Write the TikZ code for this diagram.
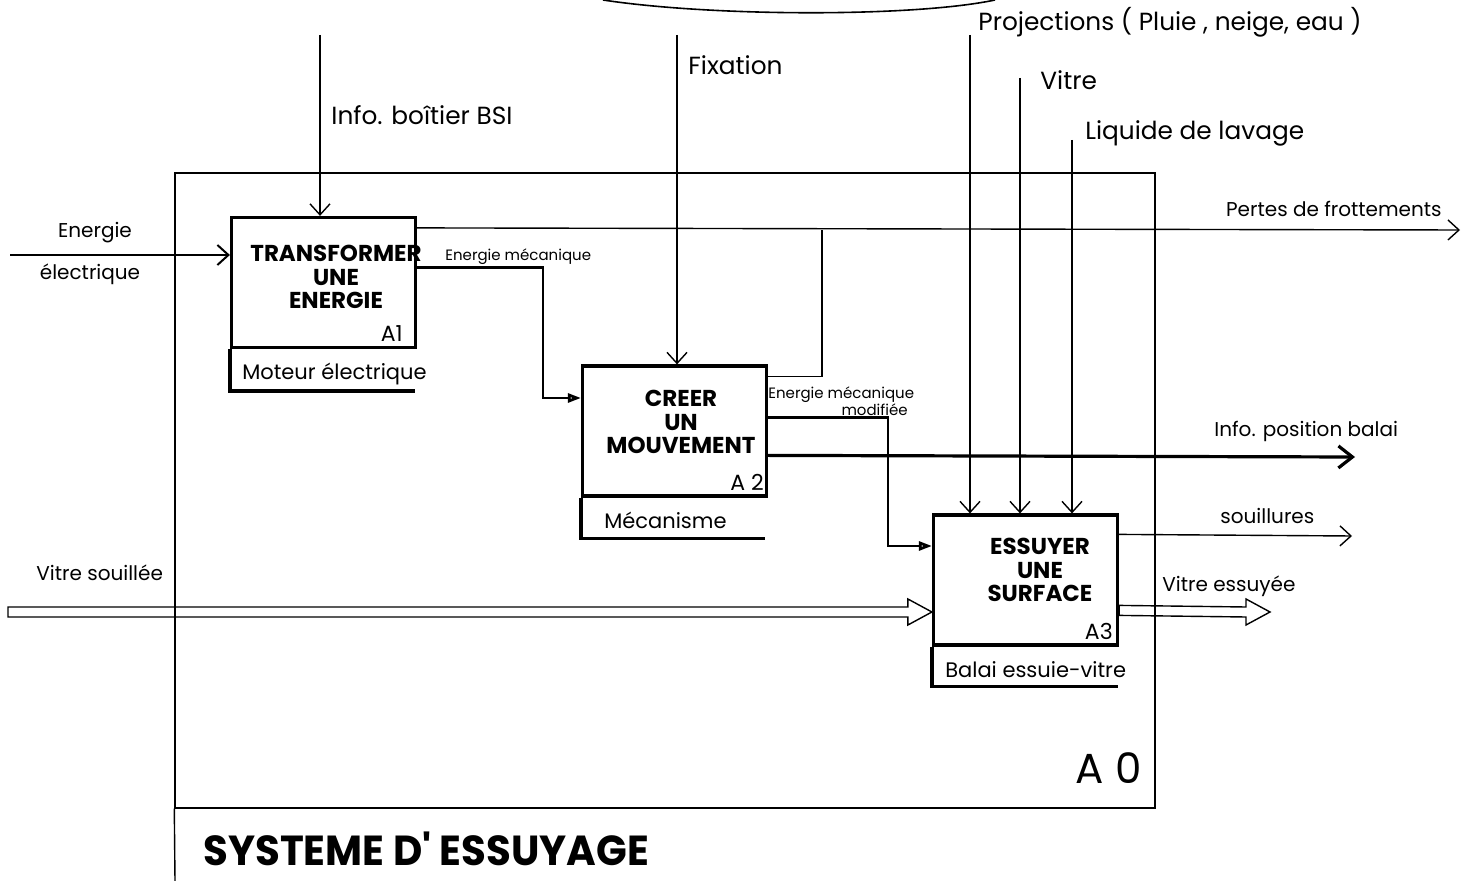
\documentclass[tikz,border=0pt]{standalone}
\usepackage{fontspec}
\usepackage{graphicx}
\setmainfont{Poppins}
\usetikzlibrary{positioning,arrows.meta,calc}
\tikzset{
	funcbox/.style={draw, line width=1.6pt, minimum width=92pt, minimum height=65pt,
		inner sep=0pt},
	boxtitle/.style={align=center, inner sep=0pt,
		font=\fontsize{11.5}{11.8}\selectfont\bfseries},
	boxref/.style={anchor=south east, inner sep=0pt, font=\fontsize{11}{12}\selectfont},
	mechtext/.style={anchor=west, inner sep=0pt, font=\fontsize{10.5}{12}\selectfont},
	biglabel/.style={anchor=west, inner sep=0pt, font=\fontsize{12.4}{14}\selectfont},
	flowlabel/.style={inner sep=0pt, font=\fontsize{10}{12}\selectfont},
	smalllabel/.style={inner sep=0pt, font=\fontsize{7.5}{7.5}\selectfont},
	flow/.style={-{Straight Barb[length=5.5pt,width=10pt]}, line width=0.7pt},
	infoflow/.style={-{Straight Barb[length=7pt,width=11pt]}, line width=1.6pt},
	powerflow/.style={-{Triangle[open,length=6.5pt,width=4.5pt]}, line width=1.4pt},
	boxline/.style={line width=1.6pt},
	frameline/.style={line width=0.7pt},
}
% hollow (double) arrow for the material flow
\newcommand{\hollowarrow}[2]{%
	\draw[line width=0.7pt] ($(#1)+(0,-5)$) -- ($(#2)+(-24,-5)$) -- ($(#2)+(-24,-13)$)
	-- (#2) -- ($(#2)+(-24,13)$) -- ($(#2)+(-24,5)$) -- ($(#1)+(0,5)$) -- cycle;}

\begin{document}
\begin{tikzpicture}[x=0.5pt,y=-0.5pt]
		\useasboundingbox (0,0) rectangle (1473,881);
		
		% =============== TOP CURVE ===============
		\draw[line width=0.8pt] (603,0) .. controls (715,17) and (915,17) .. (995,0);
		
		% =============== A0 FRAME ===============
		\node[draw, frameline, minimum width=490pt, minimum height=317.5pt, inner sep=0pt]
		(a0) at (665,490.5) {};
		\coordinate (frameEnd) at (175,881);
		\draw[frameline] (a0.south west) -- (frameEnd);
		\node[anchor=east, inner sep=0pt, font=\fontsize{21}{22}\selectfont] (a0ref) at (1142,768) {A 0};
		\node[anchor=base west, inner sep=0pt, font=\fontsize{21}{22}\selectfont\bfseries] (sysname)
		at (203,865) {\scalebox{0.96}[1]{SYSTEME D\textquotesingle{} ESSUYAGE}};
		
		% =============== FUNCTION BOXES ===============
		\node[funcbox] (a1) at (323.5,282.5) {};
		\node[funcbox] (a2) at (674.5,431) {};
		\node[funcbox] (a3) at (1025.5,580) {};
		
		\node[boxtitle] (a1t) at (336,277) {TRANSFORMER\\UNE\\ENERGIE};
		\node[boxtitle] (a2t) at (681,422) {CREER\\UN\\MOUVEMENT};
		\node[boxtitle] (a3t) at (1040,570) {ESSUYER\\UNE\\SURFACE};
		
		\node[boxref] (a1r) at ($(a1.south east)+(-14,-7)$) {A1};
		\node[boxref] (a2r) at ($(a2.south east)+(-4,-7)$) {A 2};
		\node[boxref] (a3r) at ($(a3.south east)+(-6,-7)$) {A3};
		
		% mechanisms
		\draw[boxline] (a1.south west) -- ++(0,42) -- ++(185,0);
		\node[mechtext] (a1m) at ($(a1.south west)+(12,25)$) {Moteur électrique};
		\draw[boxline] (a2.south west) -- ++(0,41) -- ++(184,0);
		\node[mechtext] (a2m) at ($(a2.south west)+(23,23)$) {Mécanisme};
		\draw[boxline] (a3.south west) -- ++(0,40) -- ++(186,0);
		\node[mechtext] (a3m) at ($(a3.south west)+(13,23)$) {Balai essuie-vitre};
		
		% =============== INPUTS ===============
		\coordinate (eeIn) at (10,255);
		\draw[flow, line width=1pt] (eeIn) -- (eeIn -| a1.west);
		\node[flowlabel] (eeL1) at (95,233) {Energie};
		\node[flowlabel] (eeL2) at (90,274) {électrique};
		
		\coordinate (vsIn) at (8,612);
		\coordinate (vsEnd) at (vsIn -| a3.west);
		\hollowarrow{vsIn}{vsEnd}
		\node[flowlabel, anchor=west] (vsL) at (36,573) {Vitre souillée};
		
		% =============== CONTROLS ===============
		\coordinate (bsiIn) at (320,35);
		\draw[flow] (bsiIn) -- (bsiIn |- a1.north);
		\node[biglabel] (bsiL) at (331,115) {Info. boîtier BSI};
		
		\coordinate (fixIn) at (677,35);
		\draw[flow] (fixIn) -- (fixIn |- a2.north);
		\node[biglabel] (fixL) at (688,65) {Fixation};
		
		\coordinate (projIn) at (970,35);
		\draw[flow] (projIn) -- (projIn |- a3.north);
		\node[biglabel] (projL) at (978,22) {Projections ( Pluie , neige, eau )};
		
		\coordinate (vitreIn) at (1020,78);
		\draw[flow] (vitreIn) -- (vitreIn |- a3.north);
		\node[biglabel] (vitreL) at (1040,80) {Vitre};
		
		\coordinate (liqIn) at (1072,140);
		\draw[flow] (liqIn) -- (liqIn |- a3.north);
		\node[biglabel] (liqL) at (1085,133) {Liquide de lavage};
		
		% =============== BETWEEN FUNCTIONS ===============
		\coordinate (a1meca) at ($(a1.north east)+(0,52)$);
		\coordinate (mecaBend) at (543,398);
		\coordinate (a2mecaIn) at (mecaBend -| a2.west);
		\draw[powerflow] (a1meca) -| (mecaBend) -- (a2mecaIn);
		\node[smalllabel, anchor=west] (mecaL) at (445,257) {Energie mécanique};
		
		\coordinate (a2meca) at ($(a2.north east)+(0,53)$);
		\coordinate (modBend) at (888,546);
		\coordinate (a3mecaIn) at (modBend -| a3.west);
		\draw[powerflow] (a2meca) -| (modBend) -- (a3mecaIn);
		\node[smalllabel, anchor=west] (modL1) at (768,395) {Energie mécanique};
		\node[smalllabel, anchor=east] (modL2) at (908,410) {modifiée};
		
		% =============== OUTPUTS ===============
		\coordinate (a1pertes) at ($(a1.north east)+(0,12)$);
		\coordinate (pertesOut) at (1460,230);
		\draw[flow] (a1pertes) -- (pertesOut);
		\coordinate (a2pertes) at ($(a2.north east)+(0,12)$);
		\coordinate (pertesJoin) at (822,230);
		\draw[line width=0.7pt] (a2pertes) -| (pertesJoin);
		\node[flowlabel, anchor=east] (pertesL) at (1442,209) {Pertes de frottements};
		
		\coordinate (a2pos) at ($(a2.north east)+(0,91)$);
		\coordinate (posOut) at (1355,457);
		\draw[infoflow] (a2pos) -- (posOut);
		\node[flowlabel, anchor=west] (posL) at (1214,431) {Info. position balai};
		
		\coordinate (a3souil) at ($(a3.north east)+(0,21)$);
		\coordinate (souilOut) at (1352,536);
		\draw[flow] (a3souil) -- (souilOut);
		\node[flowlabel, anchor=west] (souilL) at (1220,516) {souillures};
		
		\coordinate (a3vitre) at ($(a3.north east)+(0,97)$);
		\coordinate (vitreOut) at (1270,612);
		\hollowarrow{a3vitre}{vitreOut}
		\node[flowlabel, anchor=west] (essL) at (1162,586) {Vitre essuyée};
		
\end{tikzpicture}
\end{document}
